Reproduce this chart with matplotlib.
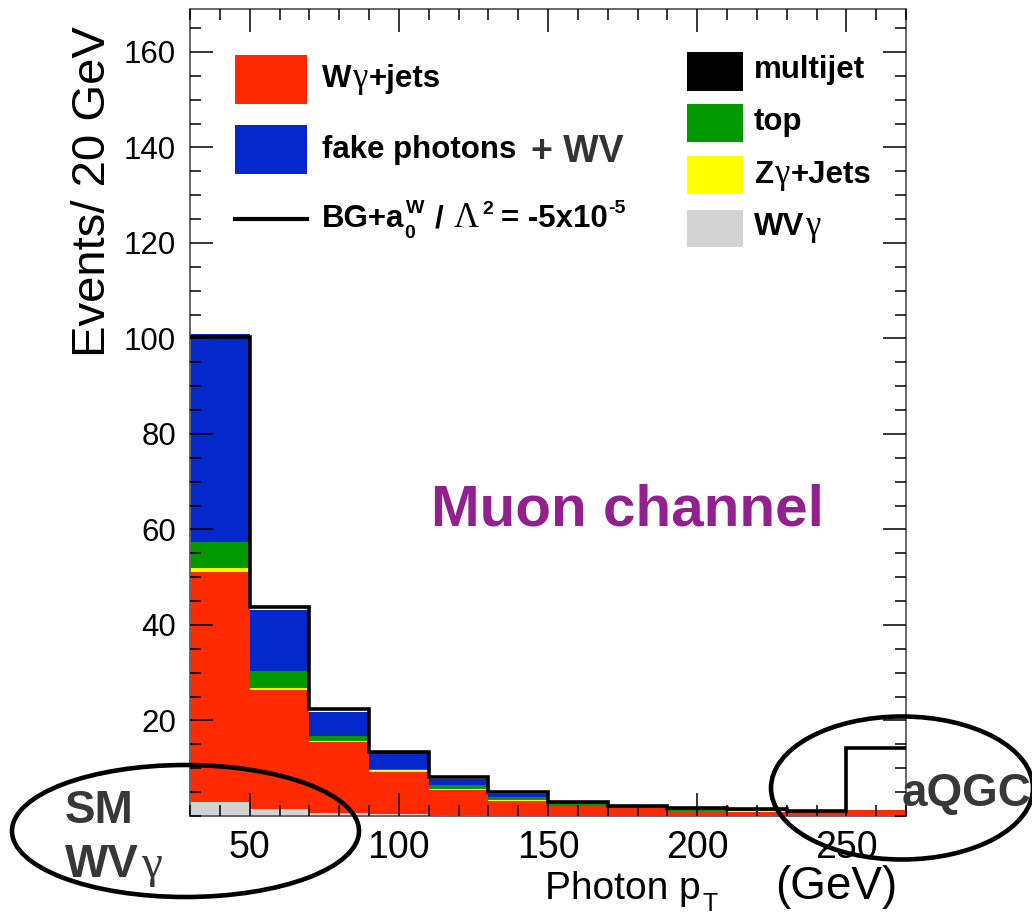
import numpy as np
import matplotlib
matplotlib.use('Agg')
import matplotlib.pyplot as plt
from matplotlib.patches import Ellipse, Rectangle
from matplotlib.lines import Line2D
from matplotlib.ticker import MultipleLocator

# ── Histogram content (photon pT, 20 GeV bins) ──────────────────────────────
edges = np.arange(30, 271, 20)
wvg       = [3.0, 1.4, 0.6, 0.4, 0.2, 0.1, 0.1, 0.05, 0.05, 0.05, 0.05, 0.05]
wg_jets   = [48.2, 25.0, 14.8, 8.9, 5.2, 3.0, 1.9, 1.55, 0.95, 0.85, 0.95, 1.15]
zg_jets   = [0.8, 0.5, 0.4, 0.3, 0.2, 0.2, 0.15, 0.1, 0.1, 0.1, 0.05, 0.0]
top       = [5.4, 3.5, 1.0, 0.3, 0.9, 0.6, 0.3, 0.2, 0.3, 0.3, 0.0, 0.0]
multijet  = [0.0, 0.0, 0.0, 0.0, 0.0, 0.0, 0.0, 0.0, 0.15, 0.15, 0.05, 0.0]
fake_wv   = [43.5, 12.7, 5.0, 3.2, 1.2, 0.7, 0.4, 0.1, 0.05, 0.05, 0.0, 0.1]
bg_aqgc   = [100.3, 43.8, 22.4, 13.5, 8.2, 5.1, 2.9, 2.0, 1.6, 1.5, 1.15, 14.2]

# stacking order, bottom to top
stack = [
    (wvg, '#d3d3d3'),
    (wg_jets, '#ff2a00'),
    (zg_jets, '#ffff00'),
    (top, '#009a00'),
    (multijet, '#000000'),
    (fake_wv, '#0428cc'),
]

W, H = 1032, 917
fig = plt.figure(figsize=(W / 100, H / 100), dpi=100)
plt.rcParams['font.family'] = ['Liberation Sans', 'DejaVu Sans']


def fx(px):
    return px / W


def fy(py):
    return 1 - py / H


ax = fig.add_axes([fx(190), fy(816), fx(906) - fx(190), fy(9) - fy(816)])

base = np.zeros(len(edges) - 1)
for vals, col in stack:
    vals = np.asarray(vals)
    ax.stairs(base + vals, edges, baseline=base, fill=True, color=col, lw=0)
    base = base + vals

ax.stairs(bg_aqgc, edges, baseline=None, color='black', lw=2.6, zorder=3)

ax.set_xlim(30, 270)
ax.set_ylim(0, 169)
ax.set_axisbelow(False)
ax.xaxis.set_major_locator(MultipleLocator(50))
ax.xaxis.set_minor_locator(MultipleLocator(10))
ax.set_yticks(np.arange(20, 161, 20))
ax.yaxis.set_minor_locator(MultipleLocator(5))
ax.tick_params(which='both', direction='in', top=True, right=True,
               width=1.1, color='black')
ax.tick_params(which='major', length=16.5)
ax.tick_params(which='minor', length=8)
ax.tick_params(axis='x', labelsize=27, pad=10)
ax.tick_params(axis='y', labelsize=22.5, pad=10)
for s in ax.spines.values():
    s.set_color('#666666')
    s.set_linewidth(1.4)

# axis titles
fig.text(fx(93), fy(192), 'Events/ 20 GeV', rotation=90, ha='center', va='center',
         fontsize=34)

renderer = fig.canvas.get_renderer()


def runs(x, y, parts):
    """Write text pieces one after another starting at pixel x, baseline y."""
    cx = x
    for s, kw in parts:
        kw = dict(kw)
        dx = kw.pop('dx', 0)
        dy = kw.pop('dy', 0)
        adv = kw.pop('adv', True)
        t = fig.text(fx(cx + dx), fy(y - dy), s, ha='left', va='baseline', **kw)
        if adv:
            cx += dx + t.get_window_extent(renderer).width


runs(545, 899, [('Photon p', dict(fontsize=28)),
                ('T', dict(fontsize=18, dy=-12, dx=2))])
runs(775, 899, [('(GeV)', dict(fontsize=33))])

# ── Legends ─────────────────────────────────────────────────────────────────
bold = dict(fontsize=22.5, fontweight='bold')
small = dict(fontsize=14, fontweight='bold')
gam = dict(fontsize=25, family='Liberation Serif')

fig.add_artist(Rectangle((fx(235), fy(104)), fx(72), fy(55) - fy(104),
                         color='#ff2a00', lw=0))
fig.add_artist(Rectangle((fx(235), fy(174)), fx(72), fy(125) - fy(174),
                         color='#0428cc', lw=0))
fig.add_artist(Line2D([fx(235), fx(307)], [fy(219), fy(219)], color='black', lw=3))

runs(322, 87, [('W', bold), ('γ', dict(gam, dx=1)), ('+jets', dict(bold, dx=1))])
runs(322, 158, [('fake photons', bold)])
runs(531, 162, [('+ WV', dict(fontsize=27, fontweight='bold', color='#333333'))])
runs(322, 227, [('BG+a', bold),
                ('W', dict(small, dy=14, dx=2, adv=False)),
                ('0', dict(small, dy=-11, dx=0)),
                ('/', dict(bold, dx=20)),
                ('Λ', dict(gam, dx=10)),
                ('2', dict(small, dy=13, dx=3)),
                ('= -5x10', dict(bold, dx=8)),
                ('-5', dict(small, dy=14, dx=1))])

right_entries = [
    ('#000000', 52, 91, [('multijet', bold)], 78),
    ('#009a00', 104, 142, [('top', bold)], 130),
    ('#ffff00', 156, 194, [('Z', bold), ('γ', dict(gam, dx=1)), ('+Jets', dict(bold, dx=1))], 183),
    ('#d3d3d3', 210, 247, [('WV', bold), ('γ', dict(gam, dx=1))], 235),
]
for col, y0, y1, parts, base_y in right_entries:
    fig.add_artist(Rectangle((fx(687), fy(y1)), fx(56), fy(y0) - fy(y1),
                             color=col, lw=0))
    runs(754, base_y, parts)

# ── Annotations ─────────────────────────────────────────────────────────────
fig.text(fx(627), fy(525), 'Muon channel', ha='center', va='baseline',
         fontsize=42, fontweight='bold', color='#93208f')

note = dict(fontsize=33, fontweight='bold', color='#383838')
runs(65, 823, [('SM', note)])
runs(65, 877, [('WV', note), ('γ', dict(fontsize=34, family='Liberation Serif',
                                        color='#383838', dx=2))])
runs(902, 806, [('aQGC', note)])

fig.add_artist(Ellipse((fx(185.5), fy(831)), fx(347), 132 / H,
                       fill=False, ec='black', lw=3.3, clip_on=False))
fig.add_artist(Ellipse((fx(902), fy(788)), fx(262), 143 / H,
                       fill=False, ec='black', lw=3.3, clip_on=False))

fig.savefig('out.png', dpi=100)
